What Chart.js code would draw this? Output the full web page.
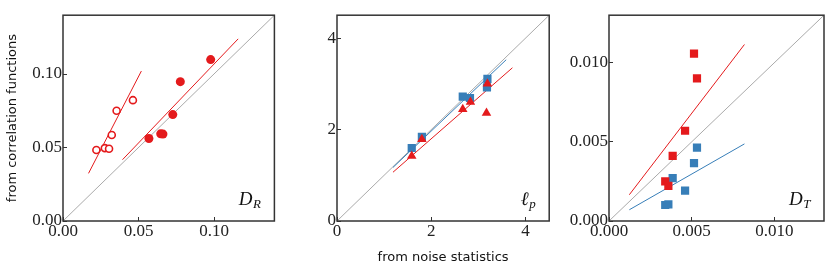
<!DOCTYPE html>
<html lang="en">
<head>
    <meta charset="UTF-8">
    <title>Correlation vs noise statistics</title>
    <script src="https://cdn.jsdelivr.net/npm/chart.js"></script>
    <style>
        body { margin: 0; background: #fff; }
        .panel { position: absolute; top: 0; }
    </style>
</head>
<body>
    <div class="panel" style="left:0px"><canvas id="chartDR" width="280" height="270"></canvas></div>
    <div class="panel" style="left:280px"><canvas id="chartLp" width="275" height="270"></canvas></div>
    <div class="panel" style="left:555px"><canvas id="chartDT" width="275" height="270"></canvas></div>
    <script>
        // D_R panel
        const drOpenX = [0.0221, 0.0277, 0.0305, 0.0323, 0.0355, 0.0463];
        const drOpenY = [0.0483, 0.0496, 0.0491, 0.0585, 0.0750, 0.0822];
        const drFilledX = [0.0569, 0.0647, 0.0662, 0.0727, 0.0777, 0.0978];
        const drFilledY = [0.0561, 0.0593, 0.0591, 0.0724, 0.0948, 0.1098];
        const drOpenFitX = [0.0169, 0.0519];
        const drOpenFitY = [0.0324, 0.1020];
        const drFilledFitX = [0.0394, 0.1160];
        const drFilledFitY = [0.0417, 0.1239];
        const drTicks = [0, 0.05, 0.10];

        // l_p panel
        const lpBlueX = [1.585, 1.80, 2.667, 2.82, 3.19, 3.18];
        const lpBlueY = [1.596, 1.84, 2.718, 2.69, 3.108, 2.92];
        const lpRedX = [1.585, 1.80, 2.667, 2.83, 3.19, 3.17];
        const lpRedY = [1.42, 1.79, 2.446, 2.60, 3.00, 2.36];
        const lpBlueFitX = [1.187, 3.588];
        const lpBlueFitY = [1.171, 3.526];
        const lpRedFitX = [1.187, 3.72];
        const lpRedFitY = [1.066, 3.35];
        const lpTicks = [0, 2, 4];

        // D_T panel
        const dtRedX = [0.00514, 0.00532, 0.00460, 0.00385, 0.00340, 0.00359];
        const dtRedY = [0.01057, 0.00901, 0.00570, 0.00412, 0.00250, 0.00222];
        const dtBlueX = [0.00532, 0.00514, 0.00385, 0.00460, 0.00340, 0.00359];
        const dtBlueY = [0.00463, 0.00366, 0.00271, 0.00192, 0.00101, 0.00105];
        const dtRedFitX = [0.00123, 0.00819];
        const dtRedFitY = [0.00166, 0.01115];
        const dtBlueFitX = [0.00123, 0.00819];
        const dtBlueFitY = [0.00071, 0.00487];
        const dtTicks = [0, 0.005, 0.010];

        const RED = '#e41a1c';
        const BLUE = '#377eb8';
        const GRAY = '#aaaaaa';
        const INK = '#333333';

        const pts = (xs, ys) => xs.map((x, i) => ({ x: x, y: ys[i] }));

        function fitLine(xs, ys, color) {
            return { data: pts(xs, ys), showLine: true, borderColor: color, borderWidth: 1,
                     pointRadius: 0, order: 5 };
        }
        function diagonal(max) {
            return { data: [{ x: 0, y: 0 }, { x: max, y: max }], showLine: true,
                     borderColor: GRAY, borderWidth: 1, pointRadius: 0, order: 9 };
        }

        // draws the frame round the plot area and the panel name
        const framePlugin = {
            id: 'frame',
            afterDraw(chart, args, opts) {
                const a = chart.chartArea;
                const ctx = chart.ctx;
                ctx.save();
                ctx.strokeStyle = INK;
                ctx.lineWidth = 1.5;
                ctx.strokeRect(a.left, a.top, a.right - a.left, a.bottom - a.top);
                ctx.fillStyle = '#111';
                ctx.textBaseline = 'alphabetic';
                ctx.font = 'italic 19px "Liberation Serif"';
                const wMain = ctx.measureText(opts.main).width;
                ctx.font = 'italic 13px "Liberation Serif"';
                const wSub = ctx.measureText(opts.sub).width;
                const x0 = a.right - 14 - wMain - wSub;
                const base = a.bottom - 16;
                ctx.font = 'italic 19px "Liberation Serif"';
                ctx.fillText(opts.main, x0, base);
                ctx.font = 'italic 13px "Liberation Serif"';
                ctx.fillText(opts.sub, x0 + wMain + 0.5, base + 3);
                ctx.restore();
            }
        };

        function makeChart(id, cfg) {
            const tickFont = { family: '"Liberation Serif", serif', size: 17 };
            const axis = (max, ticks, digits, size, isX, title) => ({
                type: 'linear', min: 0, max: max,
                afterBuildTicks: ax => { ax.ticks = ticks.map(v => ({ value: v })); },
                afterFit: ax => { if (isX) ax.height = size; else ax.width = size; },
                ticks: { font: tickFont, color: '#222', padding: isX ? 4 : 5,
                         callback: v => v.toFixed(digits) },
                grid: { drawOnChartArea: false, tickLength: -4, color: INK, lineWidth: 1 },
                border: { display: false },
                title: title
            });
            return new Chart(document.getElementById(id), {
                type: 'scatter',
                data: { datasets: cfg.datasets },
                options: {
                    responsive: false,
                    animation: false,
                    layout: { padding: { top: 5, right: cfg.right, left: 0, bottom: 0 } },
                    plugins: { legend: { display: false }, tooltip: { enabled: false },
                               frame: cfg.label },
                    scales: {
                        x: axis(cfg.max, cfg.ticks, cfg.digits, 49, true, cfg.xTitle || { display: false }),
                        y: axis(cfg.max, cfg.ticks, cfg.digits, cfg.yWidth, false, cfg.yTitle || { display: false })
                    }
                },
                plugins: [framePlugin]
            });
        }

        makeChart('chartDR', {
            max: 0.14, ticks: drTicks, digits: 2, yWidth: 63, right: 2,
            label: { main: 'D', sub: 'R' },
            yTitle: { display: true, text: 'from correlation functions', color: '#111',
                      font: { family: '"DejaVu Sans", sans-serif', size: 13 }, padding: { top: 5, bottom: 0 } },
            datasets: [
                { data: pts(drFilledX, drFilledY), pointStyle: 'circle', pointRadius: 4.5,
                  backgroundColor: RED, borderColor: RED, borderWidth: 0, order: 1 },
                { data: pts(drOpenX, drOpenY), pointStyle: 'circle', pointRadius: 3.5,
                  backgroundColor: '#fff', borderColor: RED, borderWidth: 1.6, order: 1 },
                fitLine(drOpenFitX, drOpenFitY, RED),
                fitLine(drFilledFitX, drFilledFitY, RED),
                diagonal(0.14)
            ]
        });

        makeChart('chartLp', {
            max: 4.5, ticks: lpTicks, digits: 0, yWidth: 57, right: 3,
            label: { main: '\u2113', sub: 'p' },
            xTitle: { display: true, text: 'from noise statistics', color: '#111',
                      font: { family: '"DejaVu Sans", sans-serif', size: 13 }, padding: { top: 0, bottom: 5 } },
            datasets: [
                { data: pts(lpRedX, lpRedY), pointStyle: 'triangle', pointRadius: 5.5,
                  backgroundColor: RED, borderColor: RED, borderWidth: 0, order: 1 },
                { data: pts(lpBlueX, lpBlueY), pointStyle: 'rect', pointRadius: 5.8,
                  backgroundColor: BLUE, borderColor: BLUE, borderWidth: 0, order: 2 },
                fitLine(lpBlueFitX, lpBlueFitY, BLUE),
                fitLine(lpRedFitX, lpRedFitY, RED),
                diagonal(4.5)
            ]
        });

        makeChart('chartDT', {
            max: 0.013, ticks: dtTicks, digits: 3, yWidth: 54, right: 6,
            label: { main: 'D', sub: 'T' },
            datasets: [
                { data: pts(dtRedX, dtRedY), pointStyle: 'rect', pointRadius: 5.8,
                  backgroundColor: RED, borderColor: RED, borderWidth: 0, order: 1 },
                { data: pts(dtBlueX, dtBlueY), pointStyle: 'rect', pointRadius: 5.8,
                  backgroundColor: BLUE, borderColor: BLUE, borderWidth: 0, order: 2 },
                fitLine(dtRedFitX, dtRedFitY, RED),
                fitLine(dtBlueFitX, dtBlueFitY, BLUE),
                diagonal(0.013)
            ]
        });
    </script>
</body>
</html>
